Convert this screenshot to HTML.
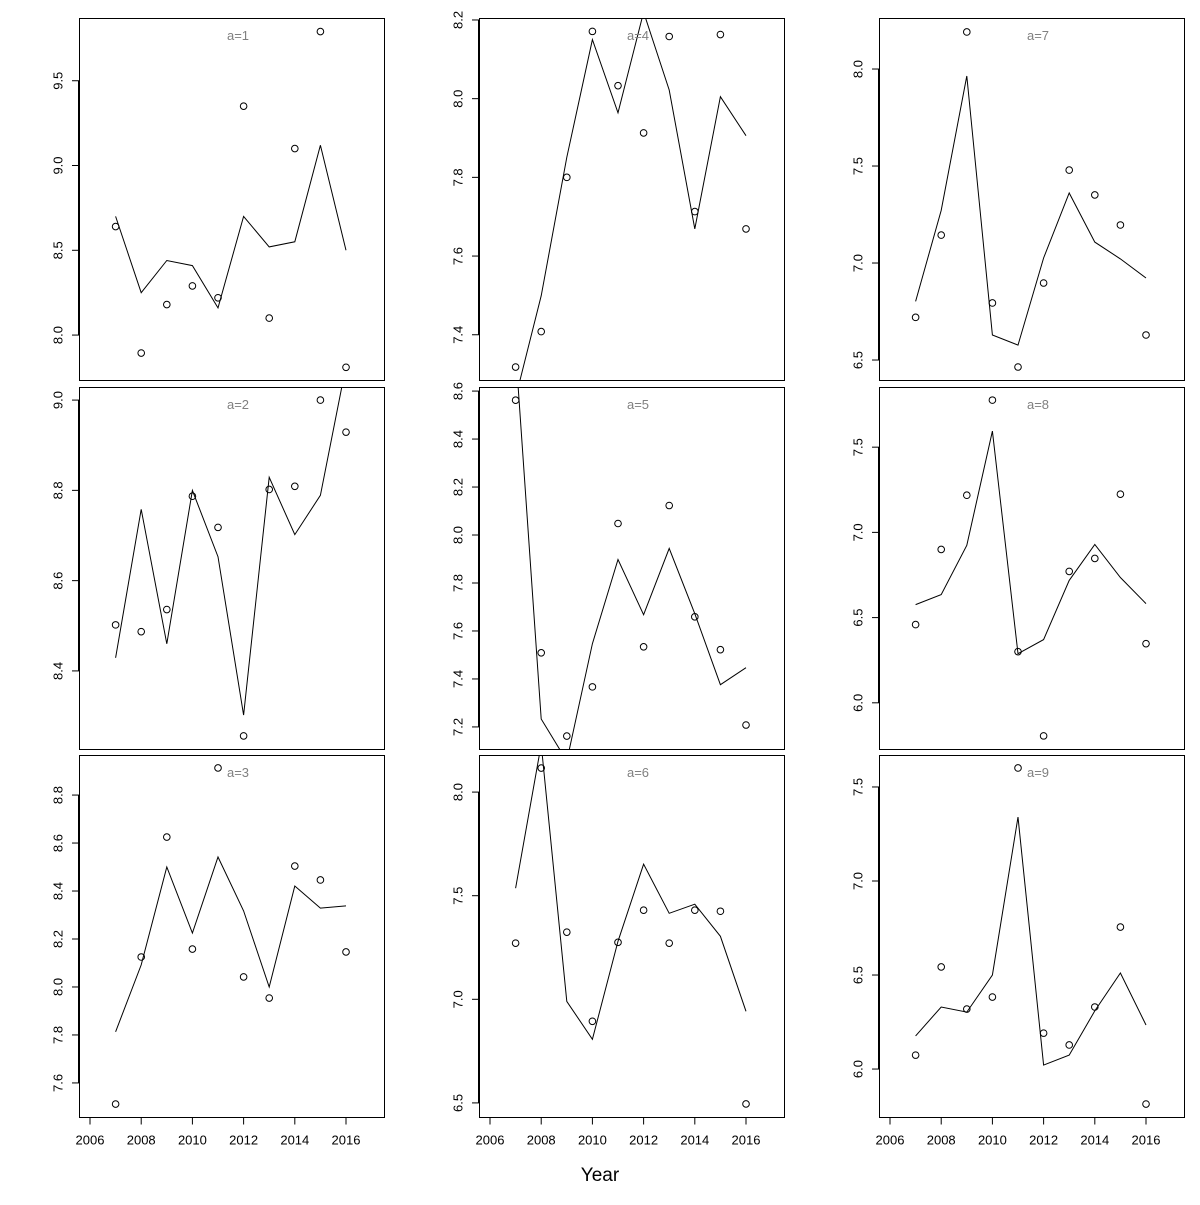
<!DOCTYPE html>
<html><head><meta charset="utf-8"><style>
html,body{margin:0;padding:0;background:#fff;}
svg text{font-family:"Liberation Sans","DejaVu Sans",sans-serif;}
</style></head><body>
<svg id="chart" width="1200" height="1200" xmlns="http://www.w3.org/2000/svg">
<rect width="1200" height="1200" fill="#fff"/>
</svg>
<script>
const years = [2007,2008,2009,2010,2011,2012,2013,2014,2015,2016];
const xTicks = [2006,2008,2010,2012,2014,2016];
const panelLabels = ["a=1","a=2","a=3","a=4","a=5","a=6","a=7","a=8","a=9"];
const pts1 = [8.64,7.894,8.18,8.29,8.22,9.35,8.10,9.10,9.79,7.81];
const line1 = [8.70,8.25,8.44,8.41,8.16,8.70,8.52,8.55,9.12,8.50];
const pts2 = [8.502,8.487,8.536,8.787,8.718,8.256,8.802,8.809,9.0,8.929];
const line2 = [8.429,8.758,8.460,8.8,8.653,8.302,8.829,8.702,8.789,9.076];
const pts3 = [7.512,8.125,8.625,8.158,8.913,8.042,7.954,8.504,8.446,8.146];
const line3 = [7.813,8.092,8.5,8.225,8.542,8.317,8.0,8.421,8.329,8.338];
const pts4 = [7.318,7.408,7.8,8.171,8.033,7.913,8.158,7.713,8.163,7.669];
const line4 = [7.24,7.499,7.851,8.150,7.964,8.22,8.022,7.669,8.005,7.906];
const pts5 = [8.562,7.509,7.162,7.367,8.048,7.534,8.123,7.659,7.522,7.208];
const line5 = [8.77,7.233,7.058,7.547,7.898,7.668,7.944,7.672,7.376,7.447];
const pts6 = [7.271,8.116,7.324,6.894,7.275,7.430,7.271,7.430,7.425,6.495];
const line6 = [7.536,8.23,6.99,6.807,7.28,7.652,7.415,7.459,7.304,6.942];
const pts7 = [6.72,7.144,8.191,6.794,6.464,6.897,7.479,7.351,7.196,6.629];
const line7 = [6.802,7.271,7.964,6.629,6.577,7.026,7.361,7.108,7.021,6.923];
const pts8 = [6.459,6.9,7.218,7.776,6.3,5.806,6.771,6.847,7.224,6.347];
const line8 = [6.576,6.635,6.924,7.594,6.288,6.371,6.718,6.929,6.735,6.582];
const pts9 = [6.074,6.543,6.319,6.383,7.601,6.191,6.128,6.33,6.755,5.814];
const line9 = [6.176,6.33,6.303,6.5,7.34,6.021,6.074,6.309,6.511,6.234];
const yLims = [[7.735,9.87],[8.227,9.029],[7.458,8.967],[7.285,8.205],[7.108,8.617],[6.432,8.179],[6.397,8.263],[5.729,7.853],[5.745,7.670]];
const yTicks = [[8.0,8.5,9.0,9.5],[8.4,8.6,8.8,9.0],[7.6,7.8,8.0,8.2,8.4,8.6,8.8],[7.4,7.6,7.8,8.0,8.2],[7.2,7.4,7.6,7.8,8.0,8.2,8.4,8.6],[6.5,7.0,7.5,8.0],[6.5,7.0,7.5,8.0],[6.0,6.5,7.0,7.5],[6.0,6.5,7.0,7.5]];
const allPts = [pts1,pts2,pts3,pts4,pts5,pts6,pts7,pts8,pts9];
const allLines = [line1,line2,line3,line4,line5,line6,line7,line8,line9];

const NS = "http://www.w3.org/2000/svg";
const svg = document.getElementById("chart");
const colX = [79,479,879], rowY = [18,387,755], W = 305, H = 362;
const xMin = 2005.570, xMax = 2017.484;
function mk(tag, attrs, parent){const e=document.createElementNS(NS,tag);for(const k in attrs)e.setAttribute(k,attrs[k]);(parent||svg).appendChild(e);return e;}

for(let i=0;i<9;i++){
  const col=Math.floor(i/3), row=i%3;
  const x0=colX[col], y0=rowY[row];
  const [lo,hi]=yLims[i];
  const sx=v=>x0+(v-xMin)/(xMax-xMin)*W;
  const sy=v=>y0+H-(v-lo)/(hi-lo)*H;
  const g=mk("g",{});
  
  
  const cp=mk("clipPath",{id:"clip"+i},g);
  mk("rect",{x:x0,y:y0,width:W,height:H},cp);
  const frame=mk("rect",{x:x0+0.5,y:y0+0.5,width:W,height:H,fill:"none",stroke:"#000","stroke-width":1},g);
  
  
  const ya=mk("g",{},g);
  
  
  const tks=yTicks[i];
  mk("line",{x1:x0-0.5,x2:x0-0.5,y1:sy(tks[0]),y2:sy(tks[tks.length-1]),stroke:"#000"},ya);
  tks.forEach(t=>{
    const y=sy(t);
    mk("line",{x1:x0-7,x2:x0,y1:y,y2:y,stroke:"#000"},ya);
    const tx=mk("text",{x:x0-21,y:y,"font-size":13,"text-anchor":"middle",transform:`rotate(-90 ${x0-21} ${y})`,"dominant-baseline":"central"},ya);
    tx.textContent=t.toFixed(1);
    
    
  });
  if(row===2){
    const xa=mk("g",{},g);
    
    
    const yb=y0+H+0.5;
    mk("line",{x1:sx(xTicks[0]),x2:sx(xTicks[xTicks.length-1]),y1:yb,y2:yb,stroke:"#000"},xa);
    xTicks.forEach(t=>{
      const x=sx(t);
      mk("line",{x1:x,x2:x,y1:yb,y2:yb+7,stroke:"#000"},xa);
      const tx=mk("text",{x:x,y:yb+27,"font-size":13,"text-anchor":"middle"},xa);
      tx.textContent=t;
      
      
    });
  }
  const d=allLines[i].map((v,k)=>(k?"L":"M")+sx(years[k]).toFixed(1)+","+sy(v).toFixed(1)).join(" ");
  const ln=mk("path",{d:d,fill:"none",stroke:"#000","stroke-width":1,"clip-path":`url(#clip${i})`},g);
  
  
  allPts[i].forEach((v,k)=>{
    const c=mk("circle",{cx:sx(years[k]),cy:sy(v),r:3.3,fill:"none",stroke:"#000","stroke-width":1},g);
    
    
  });
  const lb=mk("text",{x:x0+159,y:y0+22,"font-size":13,fill:"#808080","text-anchor":"middle"},g);
  lb.textContent=panelLabels[i];
  
  
}
const xt=mk("text",{x:600,y:1181,"font-size":19,"text-anchor":"middle"});
xt.textContent="Year";


</script>
</body></html>
